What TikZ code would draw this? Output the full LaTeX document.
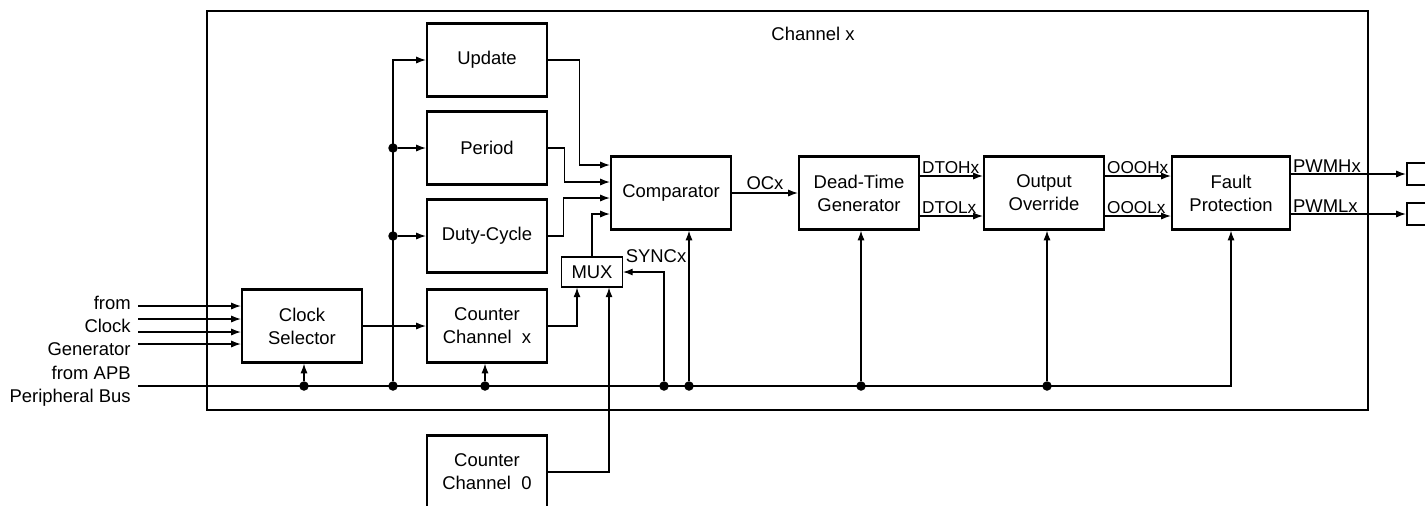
\documentclass[tikz,border=0pt]{standalone}
\usepackage{fontspec}
\setmainfont{Liberation Sans}
\usetikzlibrary{arrows.meta, positioning, calc}

\begin{document}
\begin{tikzpicture}[x=0.02cm, y=-0.02cm,
    font=\fontsize{10.5}{13}\selectfont,
    blk/.style={draw, line width=1.3pt, minimum width=2.4cm, minimum height=1.46cm, align=center, inner sep=1pt},
    muxbox/.style={draw, line width=0.6pt, minimum width=1.22cm, minimum height=0.6cm, inner sep=0pt},
    pad/.style={draw, line width=1.3pt, minimum width=0.6cm, minimum height=0.44cm},
    wire/.style={line width=0.65pt},
    arr/.style={wire, -{Latex[length=5.5pt, width=4pt]}},
    dot/.style={circle, fill, inner sep=0pt, minimum size=0.19cm},
    sig/.style={inner sep=0.8pt, font=\fontsize{9.8}{11}\selectfont}]
  \useasboundingbox (0,0) rectangle (1425,505);
  \clip (0,0) rectangle (1425,505);

  % channel frame
  \draw[line width=1.1pt] (207,11) rectangle (1368,410);
  \node (title) at (813,34) {Channel x};

  % blocks
  \node[blk] (clksel) at (302,326) {Clock\\Selector};
  \node[blk] (update) at (487,60) {Update};
  \node[blk] (period) at (487,148) {Period};
  \node[blk] (duty) at (487,236) {Duty-Cycle};
  \node[blk] (cntx) at (487,326) {Counter\\Channel\ \ x};
  \node[blk] (cnt0) at (487,472) {Counter\\Channel\ \ 0};
  \node[muxbox] (mux) at (592,272) {MUX};
  \node[blk] (comp) at (671,193) {Comparator};
  \node[blk] (dtg) at (859,193) {Dead-Time\\Generator};
  \node[blk] (ovr) at (1044,193) {Output\\Override};
  \node[blk, minimum width=2.36cm] (fault) at (1231,193) {Fault\\Protection};
  \node[pad] (padh) at (1422,174) {};
  \node[pad] (padl) at (1422,214) {};

  % outside labels
  \node[align=right, anchor=east, inner sep=0pt] (clklbl) at (131,326) {from\\Clock\\Generator};
  \node[align=right, anchor=east, inner sep=0pt] (apblbl) at (131,386) {from APB\\Peripheral Bus};

  % clock inputs
  \foreach \yy [count=\i] in {306,319,332,344} {
    \coordinate (in\i) at (138,\yy);
    \draw[arr] (in\i) -- (in\i -| clksel.west);
  }

  % APB bus
  \coordinate (apb) at (138,386);
  \draw[arr] (apb) -| (fault.south);
  \foreach \n/\xx in {b1/304, b2/393, b3/485, b4/664, b5/689, b6/861, b7/1047}
    \node[dot] (\n) at (\xx,386) {};
  \draw[arr] (b1) -- (b1 |- clksel.south);
  \draw[arr] (b3) -- (b3 |- cntx.south);
  \draw[arr] (b5) -- (b5 |- comp.south);
  \draw[arr] (b6) -- (b6 |- dtg.south);
  \draw[arr] (b7) -- (b7 |- ovr.south);

  % register feed
  \draw[arr] (b2) |- (update.west);
  \node[dot] (v1) at (b2 |- period.west) {};
  \node[dot] (v2) at (b2 |- duty.west) {};
  \draw[arr] (v1) -- (period.west);
  \draw[arr] (v2) -- (duty.west);

  \draw[arr] (clksel.east) -- (cntx.west);

  % comparator inputs
  \draw[arr] (update.east) -- ++(31,0) |- ($(comp.west)+(0,-28)$);
  \draw[arr] (period.east) -- ++(16,0) |- ($(comp.west)+(0,-11)$);
  \draw[arr] (duty.east) -- ++(15,0) |- ($(comp.west)+(0,5)$);
  \draw[arr] (mux.north) |- ($(comp.west)+(0,21)$);

  % mux inputs
  \draw[arr] (cntx.east) -| ($(mux.south)+(-15,0)$);
  \draw[arr] (cnt0.east) -| ($(mux.south)+(17,0)$);
  \draw[arr] (b4) |- (mux.east);
  \node[sig, anchor=west, font=\fontsize{10.5}{13}\selectfont] (synclbl) at ($(mux.north east)+(1,0)$) {SYNCx};

  % output chain
  \draw[arr] (comp.east) -- (dtg.west)
    node[sig, midway, above=1pt, font=\fontsize{10.5}{13}\selectfont] (oclbl) {OCx};
  \draw[arr] ($(dtg.east)+(0,-17)$) -- ($(ovr.west)+(0,-17)$)
    node[sig, pos=0, anchor=south west] (dtohlbl) {DTOHx};
  \draw[arr] ($(dtg.east)+(0,23)$) -- ($(ovr.west)+(0,23)$)
    node[sig, pos=0, anchor=south west] (dtollbl) {DTOLx};
  \draw[arr] ($(ovr.east)+(0,-17)$) -- ($(fault.west)+(0,-17)$)
    node[sig, pos=0, anchor=south west] (ooohlbl) {OOOHx};
  \draw[arr] ($(ovr.east)+(0,23)$) -- ($(fault.west)+(0,23)$)
    node[sig, pos=0, anchor=south west] (ooollbl) {OOOLx};
  \draw[arr] (fault.east |- padh) -- (padh.west)
    node[sig, pos=0, anchor=south west, font=\fontsize{10.5}{13}\selectfont] (pwmhlbl) {PWMHx};
  \draw[arr] (fault.east |- padl) -- (padl.west)
    node[sig, pos=0, anchor=south west, font=\fontsize{10.5}{13}\selectfont] (pwmllbl) {PWMLx};
\end{tikzpicture}
\end{document}
